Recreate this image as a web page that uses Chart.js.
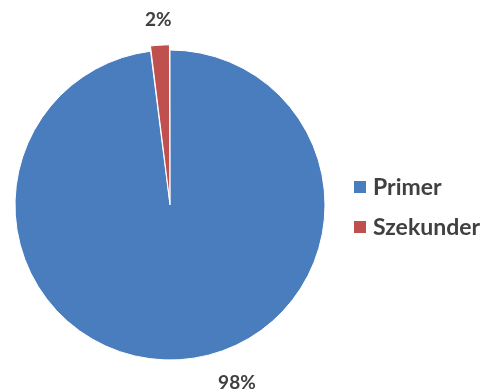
<!DOCTYPE html>
<html>
<head>
<meta charset="utf-8">
<script src="https://cdn.jsdelivr.net/npm/chart.js@4/dist/chart.umd.min.js"></script>
<style>
  html, body { margin: 0; padding: 0; background: #fff; }
  #wrap { width: 484px; height: 392px; position: relative; }
</style>
</head>
<body>
<div id="wrap"><canvas id="pie" width="484" height="392"></canvas></div>
<script>
const labels = ['Primer', 'Szekunder'];
const values = [98, 2];
const colors = ['#4A7DBE', '#C0504D'];
const pctLabels = ['98%', '2%'];

const FONT = 'Lato, "Open Sans", sans-serif';
const TEXT_COLOR = '#404040';

// percentage labels, placed just past the outer edge of each slice
const pctPlugin = {
  id: 'pctLabels',
  afterDatasetsDraw(chart, args, opts) {
    const ctx = chart.ctx;
    const meta = chart.getDatasetMeta(0);
    const offsets = chart.data.datasets[0].offset;
    ctx.save();
    ctx.font = `bold ${opts.size}px ${FONT}`;
    ctx.fillStyle = TEXT_COLOR;
    ctx.textAlign = 'center';
    ctx.textBaseline = 'middle';
    meta.data.forEach((arc, i) => {
      const p = arc.getProps(['x', 'y', 'startAngle', 'endAngle', 'outerRadius'], true);
      const mid = (p.startAngle + p.endAngle) / 2;
      const d = p.outerRadius + (offsets[i] || 0) + opts.gap;
      const nudge = opts.nudge[i] || [0, 0];
      ctx.fillText(pctLabels[i], p.x + Math.cos(mid) * d + nudge[0], p.y + Math.sin(mid) * d + nudge[1]);
    });
    ctx.restore();
  }
};

// legend to the right of the pie
const sideLegend = {
  id: 'sideLegend',
  afterDraw(chart, args, opts) {
    const ctx = chart.ctx;
    ctx.save();
    ctx.font = `bold ${opts.size}px ${FONT}`;
    ctx.textBaseline = 'middle';
    chart.data.labels.forEach((lab, i) => {
      const y = opts.top + i * opts.rowGap;
      ctx.fillStyle = chart.data.datasets[0].backgroundColor[i];
      ctx.fillRect(opts.left, y - opts.box / 2, opts.box, opts.box);
      ctx.fillStyle = TEXT_COLOR;
      ctx.fillText(lab, opts.left + opts.box + 7, y + 1);
    });
    ctx.restore();
  }
};

new Chart(document.getElementById('pie'), {
  type: 'pie',
  data: {
    labels,
    datasets: [{
      data: values,
      backgroundColor: colors,
      borderColor: '#ffffff',
      borderWidth: 1,
      offset: [0, 11],
      hoverOffset: 0,
    }],
  },
  options: {
    responsive: false,
    animation: false,
    radius: 155,
    layout: { padding: { left: 10, right: 154, top: 40, bottom: 22 } },
    plugins: {
      legend: { display: false },
      tooltip: { enabled: false },
      pctLabels: { size: 19, gap: 19, nudge: [[56, 4], [0, 0]] },
      sideLegend: { left: 354, top: 187, rowGap: 40, box: 12, size: 23 },
    },
  },
  plugins: [pctPlugin, sideLegend],
});
</script>
</body>
</html>
